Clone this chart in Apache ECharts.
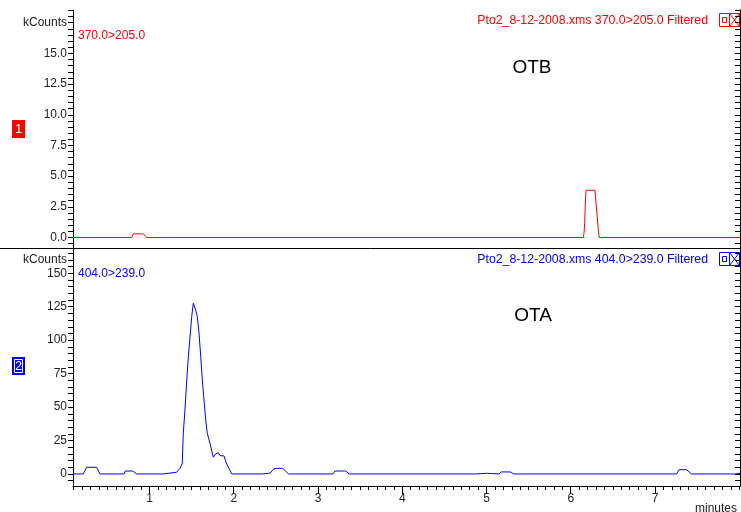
<!DOCTYPE html>
<html>
<head>
<meta charset="utf-8">
<script src="https://cdn.jsdelivr.net/npm/echarts@6/dist/echarts.min.js"></script>
<style>html,body{margin:0;padding:0;background:#fff;}#c{width:741px;height:512px;}</style>
</head>
<body>
<div id="c"></div>
<script>
// ---- data (minutes, kCounts) ----
var otbMinutes = [0.09, 0.788, 0.808, 0.927, 0.967, 6.149, 6.157, 6.165, 6.173, 6.181, 6.288, 6.300, 6.315, 6.327, 6.339, 8.01];
var otbKCounts = [0, 0, 0.3, 0.3, 0, 0, 0.33, 1.15, 2.77, 3.85, 3.85, 2.77, 1.7, 0.6, 0, 0];

var otaMinutes = [0.09, 0.214, 0.255, 0.373, 0.412, 0.697, 0.713, 0.801, 0.848, 1.164, 1.180, 1.323, 1.362,
  1.389, 1.401, 1.421, 1.442, 1.461, 1.481, 1.501, 1.520, 1.532, 1.548, 1.567, 1.588, 1.608, 1.627, 1.647,
  1.667, 1.686, 1.718, 1.757, 1.786, 1.817, 1.837, 1.884, 1.916, 1.976,
  2.33, 2.35, 2.43, 2.47, 2.50, 2.58, 2.61, 2.65,
  3.177, 3.20, 3.33, 3.37,
  4.87, 4.89, 5.01, 5.03,
  5.148, 5.175, 5.283, 5.323,
  7.255, 7.286, 7.374, 7.433,
  7.96, 7.97, 8.01];
var otaKCounts = [0, 0, 5.0, 5.0, 0, 0, 2.2, 2.2, 0, 0, 1.3, 1.3, 4.2,
  8.0, 30.4, 47.8, 70.3, 87.7, 102.6, 117.6, 127.6, 128.0, 122.6, 117.6, 105.2, 87.7, 70.3, 55.3,
  40.4, 30.4, 22.9, 12.5, 15.0, 15.9, 13.7, 13.5, 7.5, 0,
  0, 0.6, 0.6, 3.5, 4.2, 4.2, 2.5, 0,
  0, 2.2, 2.2, 0,
  0, 0.5, 0.5, 0,
  0, 1.5, 1.5, 0,
  0, 3.2, 3.2, 0,
  0, 0.5, 0.5];

var topMajorTicks = [0, 2.5, 5, 7.5, 10, 12.5, 15];
var topTickLabels = ['0.0', '2.5', '5.0', '7.5', '10.0', '12.5', '15.0'];
var bottomMajorTicks = [0, 25, 50, 75, 100, 125, 150];
var bottomTickLabels = ['0', '25', '50', '75', '100', '125', '150'];
var xMajorTicks = [1, 2, 3, 4, 5, 6, 7];
var xTickLabels = ['1', '2', '3', '4', '5', '6', '7'];
var unitLabel = 'kCounts';
var xAxisLabel = 'minutes';
var topTrace = '370.0>205.0';
var bottomTrace = '404.0>239.0';
var topFile = 'Pto2_8-12-2008.xms 370.0>205.0 Filtered';
var bottomFile = 'Pto2_8-12-2008.xms 404.0>239.0 Filtered';
var topCompound = 'OTB';
var bottomCompound = 'OTA';

// ---- build ----
function pairs(xs, ys) { var out = []; for (var i = 0; i < xs.length; i++) out.push([xs[i], ys[i]]); return out; }
function steps(a, b, s) { var out = []; var n = Math.round((b - a) / s); for (var i = 0; i <= n; i++) out.push(+(a + i * s).toFixed(3)); return out; }

var FONT = 'Liberation Sans, Arial, sans-serif';
var TXT = '#222';

var topMinor = steps(-0.5, 18.5, 0.5);
var botMinor = steps(-5, 165, 5);
var xMinor = steps(0.1, 8.0, 0.1);

var topLabelVals = topMajorTicks.concat([17.5]);
var botLabelVals = bottomMajorTicks.concat([160]);

function fmtTop(v) { if (Math.abs(v - 17.5) < 1e-6) return unitLabel; var i = topMajorTicks.indexOf(v); return i >= 0 ? topTickLabels[i] : ''; }
function fmtBot(v) { if (Math.abs(v - 160) < 1e-6) return unitLabel; var i = bottomMajorTicks.indexOf(v); return i >= 0 ? bottomTickLabels[i] : ''; }
function fmtX(v) { var i = xMajorTicks.indexOf(v); return i >= 0 ? xTickLabels[i] : ''; }

var XMIN = 0.092, XMAX = 8.009;
var axisLineStyle = { color: '#000', width: 1 };

function leftY(grid, min, max, minor, labelVals, fmt) {
  return {
    gridIndex: grid, type: 'value', min: min, max: max, position: 'left',
    axisLine: { show: true, onZero: false, lineStyle: axisLineStyle },
    axisTick: { show: true, customValues: minor, length: 5, lineStyle: axisLineStyle },
    axisLabel: { show: true, customValues: labelVals, formatter: fmt, margin: 6, color: TXT, fontSize: 12, fontFamily: FONT },
    splitLine: { show: false }
  };
}
function rightY(grid, min, max, minor) {
  return {
    gridIndex: grid, type: 'value', min: min, max: max, position: 'right',
    axisLine: { show: true, onZero: false, lineStyle: axisLineStyle },
    axisTick: { show: true, inside: true, customValues: minor, length: 5, lineStyle: axisLineStyle },
    axisLabel: { show: false }, splitLine: { show: false }
  };
}

var option = {
  animation: false,
  backgroundColor: '#fff',
  grid: [
    { left: 73, top: 10, width: 667, height: 238 },
    { left: 73, top: 248, width: 667, height: 238 }
  ],
  xAxis: [
    { gridIndex: 0, type: 'value', min: XMIN, max: XMAX, show: false },
    { gridIndex: 1, type: 'value', min: XMIN, max: XMAX, position: 'bottom',
      axisLine: { show: true, onZero: false, lineStyle: axisLineStyle },
      axisTick: { show: true, customValues: xMinor, length: 4, lineStyle: axisLineStyle },
      axisLabel: { show: false }, splitLine: { show: false } },
    { gridIndex: 1, type: 'value', min: XMIN, max: XMAX, position: 'bottom',
      axisLine: { show: false, onZero: false },
      axisTick: { show: true, customValues: xMajorTicks, length: 8, lineStyle: axisLineStyle },
      axisLabel: { show: true, customValues: xMajorTicks, formatter: fmtX, margin: 7, color: TXT, fontSize: 12, fontFamily: FONT },
      splitLine: { show: false } }
  ],
  yAxis: [
    leftY(0, -0.85, 18.53, topMinor, topLabelVals, fmtTop),
    rightY(0, -0.85, 18.53, topMinor),
    leftY(1, -9, 168.9, botMinor, botLabelVals, fmtBot),
    rightY(1, -9, 168.9, botMinor)
  ],
  series: [
    { type: 'line', xAxisIndex: 0, yAxisIndex: 0, data: pairs(otbMinutes, otbKCounts), showSymbol: false,
      lineStyle: { color: '#ff0000', width: 1 }, itemStyle: { color: '#ff0000' }, silent: true },
    { type: 'line', xAxisIndex: 1, yAxisIndex: 2, data: pairs(otaMinutes, otaKCounts), showSymbol: false,
      lineStyle: { color: '#0000ff', width: 1 }, itemStyle: { color: '#0000ff' }, silent: true }
  ],
  graphic: [
    { type: 'line', shape: { x1: 0, y1: 248.5, x2: 741, y2: 248.5 }, style: { stroke: '#000', lineWidth: 1 } },
    // top panel texts
    { type: 'text', x: 78, y: 36, style: { text: topTrace, fill: '#ff0000', font: '12px ' + FONT, textVerticalAlign: 'middle' } },
    { type: 'text', x: 708, y: 20.5, style: { text: topFile, fill: '#ff0000', font: '12.3px ' + FONT, textAlign: 'right', textVerticalAlign: 'middle' } },
    { type: 'text', x: 532, y: 68, style: { text: topCompound, fill: '#000', font: '19px ' + FONT, textAlign: 'center', textVerticalAlign: 'middle' } },
    { type: 'rect', shape: { x: 719.5, y: 13.5, width: 20, height: 13 }, style: { fill: 'none', stroke: '#ff0000', lineWidth: 1 } },
    { type: 'line', shape: { x1: 729.5, y1: 13.5, x2: 729.5, y2: 26.5 }, style: { stroke: '#ff0000', lineWidth: 1 } },
    { type: 'rect', shape: { x: 722.5, y: 17.5, width: 4, height: 5 }, style: { fill: 'none', stroke: '#ff0000', lineWidth: 1 } },
    { type: 'line', shape: { x1: 729.5, y1: 13.5, x2: 739.5, y2: 26.5 }, style: { stroke: '#ff0000', lineWidth: 1 } },
    { type: 'line', shape: { x1: 739.5, y1: 13.5, x2: 729.5, y2: 26.5 }, style: { stroke: '#ff0000', lineWidth: 1 } },
    { type: 'rect', shape: { x: 12, y: 120, width: 13, height: 18 }, style: { fill: '#ff0000' } },
    { type: 'text', x: 18.5, y: 129.5, style: { text: '1', fill: '#fff', font: '13px ' + FONT, textAlign: 'center', textVerticalAlign: 'middle' } },
    // bottom panel texts
    { type: 'text', x: 78, y: 274, style: { text: bottomTrace, fill: '#0000ff', font: '12px ' + FONT, textVerticalAlign: 'middle' } },
    { type: 'text', x: 708, y: 259.5, style: { text: bottomFile, fill: '#0000ff', font: '12.3px ' + FONT, textAlign: 'right', textVerticalAlign: 'middle' } },
    { type: 'text', x: 533, y: 316, style: { text: bottomCompound, fill: '#000', font: '19px ' + FONT, textAlign: 'center', textVerticalAlign: 'middle' } },
    { type: 'rect', shape: { x: 719.5, y: 252.5, width: 20, height: 13 }, style: { fill: 'none', stroke: '#0000ff', lineWidth: 1 } },
    { type: 'line', shape: { x1: 729.5, y1: 252.5, x2: 729.5, y2: 265.5 }, style: { stroke: '#0000ff', lineWidth: 1 } },
    { type: 'rect', shape: { x: 722.5, y: 256.5, width: 4, height: 5 }, style: { fill: 'none', stroke: '#0000ff', lineWidth: 1 } },
    { type: 'line', shape: { x1: 729.5, y1: 252.5, x2: 739.5, y2: 265.5 }, style: { stroke: '#0000ff', lineWidth: 1 } },
    { type: 'line', shape: { x1: 739.5, y1: 252.5, x2: 729.5, y2: 265.5 }, style: { stroke: '#0000ff', lineWidth: 1 } },
    { type: 'rect', shape: { x: 12, y: 357, width: 13, height: 18 }, style: { fill: '#0000ff' } },
    { type: 'rect', shape: { x: 14.5, y: 359.5, width: 8, height: 13 }, style: { fill: 'none', stroke: '#fff', lineWidth: 1 } },
    { type: 'text', x: 18.5, y: 366.5, style: { text: '2', fill: '#fff', font: '12px ' + FONT, textAlign: 'center', textVerticalAlign: 'middle' } },
    { type: 'text', x: 737, y: 509, style: { text: xAxisLabel, fill: TXT, font: '12px ' + FONT, textAlign: 'right', textVerticalAlign: 'middle' } }
  ]
};

var chart = echarts.init(document.getElementById('c'), null, { renderer: 'canvas' });
chart.setOption(option);
</script>
</body>
</html>
